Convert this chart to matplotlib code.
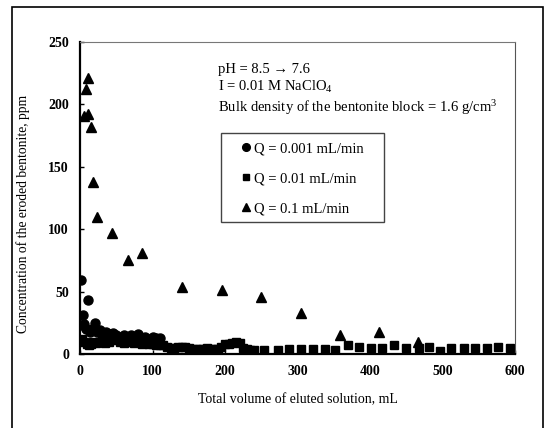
import matplotlib
matplotlib.use('Agg')
import matplotlib.pyplot as plt
from matplotlib.patches import Rectangle

plt.rcParams['font.family'] = ['Liberation Serif', 'DejaVu Serif']
plt.rcParams['mathtext.fontset'] = 'custom'
plt.rcParams['mathtext.rm'] = 'Liberation Serif'
plt.rcParams['mathtext.it'] = 'Liberation Serif:italic'

# Q = 0.001 mL/min
x_low = [2, 4, 3, 6, 8, 11, 14, 17, 20, 24, 28, 32, 36, 40, 45, 50, 55, 60,
         65, 70, 75, 80, 85, 90, 95, 100, 105, 110]
y_low = [59, 31, 23, 24, 20, 43, 18, 20, 25, 18, 19, 17, 18, 16, 17, 15, 14, 15,
         13, 15, 14, 16, 13, 14, 12, 14, 13, 13]

# Q = 0.01 mL/min
x_mid = [3, 6, 9, 12, 15, 18, 22, 26, 30, 35, 40, 45, 50, 55, 60, 65, 70, 75,
         80, 85, 90, 95, 100, 105, 110, 115, 120, 125, 130, 135, 140, 145, 150,
         155, 160, 165, 170, 175, 180, 185, 190, 195, 200, 205, 210, 215, 220,
         225, 230, 235, 240, 254, 273, 288, 305, 321, 338, 352, 369, 385, 401,
         417, 433, 449, 467, 481, 496, 512, 529, 545, 561, 577, 593]
y_mid = [12, 10, 8, 7, 8, 10, 9, 10, 11, 9, 10, 12, 11, 10, 9, 11, 10, 9,
         10, 8, 9, 8, 8, 7, 7, 7, 6, 5, 5, 6, 6, 6, 5,
         4, 4, 4, 4, 5, 4, 4, 4, 6, 8, 8, 9, 10, 9,
         5, 4, 3, 3, 3, 3, 4, 4, 4, 4, 3, 7, 6, 5,
         5, 7.5, 5, 5, 6, 2.5, 5, 5, 5, 5, 6, 5]

# Q = 0.1 mL/min
x_high = [5, 11, 8.5, 10.5, 15, 18, 24, 44.5, 66, 86, 141, 196, 250, 305, 359, 412, 466]
y_high = [191, 192, 212, 221, 182, 138, 110, 97, 75, 81, 54, 51, 46, 33, 15, 18, 10]

fig = plt.figure(figsize=(5.45, 4.28), dpi=100)
ax = fig.add_axes([80 / 545, 1 - 354 / 428, 435 / 545, 312 / 428])

ax.plot(x_low, y_low, 'o', color='black', markersize=6.5, label='Q = 0.001 mL/min')
ax.plot(x_mid, y_mid, 's', color='black', markersize=5.5, label='Q = 0.01 mL/min')
ax.plot(x_high, y_high, '^', color='black', markersize=7.5, label='Q = 0.1 mL/min')

ax.set_xlim(0, 600)
ax.set_ylim(0, 250)
ax.set_xticks(range(0, 601, 100))
ax.set_yticks(range(0, 251, 50))
ax.tick_params(direction='in', length=3, width=1, labelsize=10, pad=8)
for lab in ax.get_xticklabels() + ax.get_yticklabels():
    lab.set_fontweight('bold')

ax.spines['left'].set_linewidth(1.6)
ax.spines['bottom'].set_linewidth(1.6)
ax.spines['top'].set_color('#777777')
ax.spines['right'].set_color('#555555')

ax.set_xlabel('Total volume of eluted solution, mL', fontsize=10)
ax.set_ylabel('Concentration of the eroded bentonite, ppm', fontsize=9.8)
ax.xaxis.set_label_coords(0.5, -0.125)
ax.yaxis.set_label_coords(-0.115, 0.45)

fig.text(218 / 545, 1 - 69 / 428, 'pH = 8.5 \u2192 7.6', fontsize=10.5, va='center')
fig.text(218 / 545, 1 - 87 / 428, 'I = 0.01 M NaClO$_4$', fontsize=10.5, va='center')
fig.text(218 / 545, 1 - 108 / 428, 'Bulk density of the bentonite block = 1.6 g/cm$^3$',
         fontsize=10.5, va='center')

# legend entries without frame, box drawn separately
leg = ax.legend(loc='upper left', bbox_to_anchor=(242 / 545, 1 - 142 / 428),
                bbox_transform=fig.transFigure, frameon=False,
                fontsize=10.5, handlelength=0.6, handletextpad=0.25,
                labelspacing=1.15, borderpad=0, borderaxespad=0,
                markerscale=0.85)
fig.patches.append(Rectangle((221 / 545, 1 - 222 / 428), 163 / 545, 89 / 428,
                             transform=fig.transFigure, fill=False,
                             edgecolor='#444444', linewidth=1))

# outer frame of the figure
fig.patches.append(Rectangle((12 / 545, -0.1), 531 / 545, 1.1 - 7 / 428,
                             transform=fig.transFigure, fill=False,
                             edgecolor='black', linewidth=1.2))

fig.savefig('out.png', dpi=100)
